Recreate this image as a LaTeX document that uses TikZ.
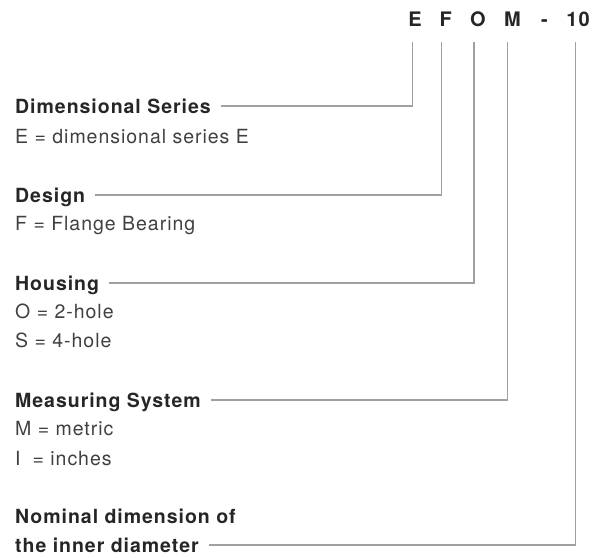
\documentclass[tikz,border=0pt]{standalone}
\usepackage{fontspec}
\setmainfont{TeX Gyre Heros}[LetterSpace=5]
\definecolor{headc}{HTML}{262626}
\definecolor{valc}{HTML}{404040}
\definecolor{linec}{HTML}{A0A0A0}
\tikzset{
  head/.style={font=\fontsize{19.5}{23}\selectfont\bfseries, text=headc, inner sep=0pt, anchor=base west},
  val/.style={font=\fontsize{19.5}{23}\selectfont, text=valc, inner sep=0pt, anchor=base west},
  code/.style={font=\fontsize{20}{24}\selectfont\bfseries, text=headc, inner sep=0pt, anchor=base},
  conn/.style={draw=linec, line width=1.3pt},
}
\begin{document}
\begin{tikzpicture}[x=1pt,y=1pt]
\useasboundingbox (0,0) rectangle (607,-557);
% code letters
\node[code] (lE) at (415,-26) {E};
\node[code] (lF) at (445.7,-26) {F};
\node[code] (lO) at (478,-26) {O};
\node[code] (lM) at (512.5,-26) {M};
\node[code] (ld) at (544.5,-26) {-};
\node[code] (l10) at (578,-26) {10};
\coordinate (tE) at (412.3,-42);
\coordinate (tF) at (441.7,-42);
\coordinate (tO) at (474,-42);
\coordinate (tM) at (507.3,-42);
\coordinate (t10) at (575.7,-42);
% labels
\node[head] (h1) at (15,-113) {Dimensional Series};
\node[val] (v1) at (15,-143) {E = dimensional series E};
\node[head] (h2) at (15,-202) {Design};
\node[val] (v2) at (15,-230) {F = Flange Bearing};
\node[head] (h3) at (15,-290) {Housing};
\node[val] (v3a) at (15,-318) {O = 2-hole};
\node[val] (v3b) at (15,-347) {S = 4-hole};
\node[head] (h4) at (15,-407) {Measuring System};
\node[val] (v4a) at (15,-435) {M = metric};
\node[val] (v4b) at (15,-465) {I\hspace{12pt}= inches};
\node[head] (h5a) at (15,-523) {Nominal dimension of};
\node[head] (h5) at (15,-552) {the inner diameter};
% connectors
\draw[conn] ([shift={(10,7)}]h1.base east) -| (tE);
\draw[conn] ([shift={(10,7)}]h2.base east) -| (tF);
\draw[conn] ([shift={(10,7)}]h3.base east) -| (tO);
\draw[conn] ([shift={(10,7)}]h4.base east) -| (tM);
\draw[conn] ([shift={(10,7)}]h5.base east) -| (t10);
\end{tikzpicture}
\end{document}
